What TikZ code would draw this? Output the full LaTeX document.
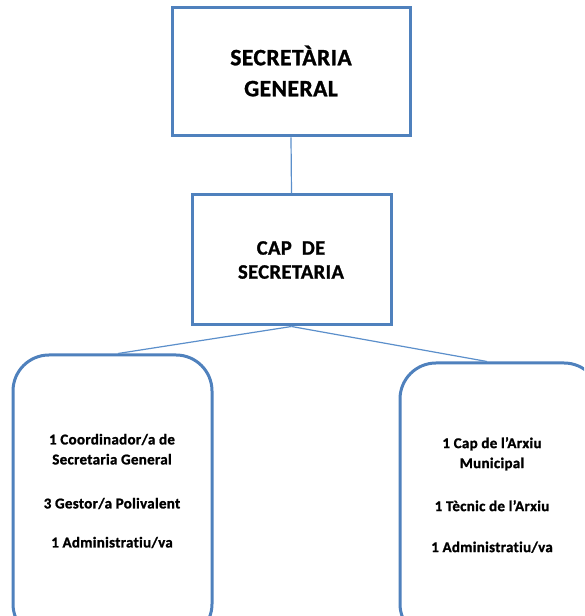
\documentclass[tikz,border=0pt]{standalone}
\usepackage{fontspec}
\setmainfont{Carlito}[Ligatures=NoCommon,LetterSpace=2,BoldFeatures={FakeBold=1.2}]
\usetikzlibrary{calc}
\definecolor{boxblue}{HTML}{4F81BD}
\definecolor{lineblue}{HTML}{5B8FCB}
\begin{document}
\begin{tikzpicture}[x=1pt,y=1pt,
  sqbox/.style={draw=boxblue,line width=3pt,fill=white,rectangle,inner sep=0pt},
  rbox/.style={draw=boxblue,line width=3pt,fill=white,rectangle,rounded corners=36pt,inner sep=0pt},
  conn/.style={draw=lineblue,line width=1.2pt},
  bigtxt/.style={font=\bfseries\fontsize{23.5}{31}\selectfont,align=center,inner sep=0pt},
  midtxt/.style={font=\bfseries\fontsize{20.5}{24}\selectfont,align=center,inner sep=0pt},
  smalltxt/.style={font=\bfseries\fontsize{15}{20}\selectfont,align=center,inner sep=0pt}]
\useasboundingbox (0,0) rectangle (584,616);
\clip (0,0) rectangle (584,616);
\fill[white] (0,0) rectangle (584,616);
% boxes
\node[sqbox,minimum width=238pt,minimum height=128pt] (top) at (291,544) {};
\node[sqbox,minimum width=199pt,minimum height=130pt] (cap) at (291.5,356) {};
\node[rbox,minimum width=199pt,minimum height=285pt] (left) at (112.5,118.5) {};
\node[rbox,minimum width=200pt,minimum height=277pt] (right) at (500,114.5) {};
% connectors
\coordinate (lend) at ($(left.north)+(5.5,0)$);
\coordinate (rend) at ($(right.north)+(-13,0)$);
\draw[conn] (top.south) -- (cap.north);
\draw[conn] (cap.south) -- (lend);
\draw[conn] (cap.south) -- (rend);
% texts
\node[bigtxt] (toptxt) at (291,545) {SECRETÀRIA\\GENERAL};
\node[midtxt] (captxt) at (291,356) {CAP\ \ DE\\SECRETARIA};
\node[smalltxt] (lefttxt) at (112,125) {1 Coordinador/a de\\Secretaria General\\[24pt]3 Gestor/a Polivalent\\[19pt]1 Administratiu/va};
\node[smalltxt] (righttxt) at (492,121) {1 Cap de l’Arxiu\\Municipal\\[23pt]1 Tècnic de l’Arxiu\\[21pt]1 Administratiu/va};
\end{tikzpicture}
\end{document}
